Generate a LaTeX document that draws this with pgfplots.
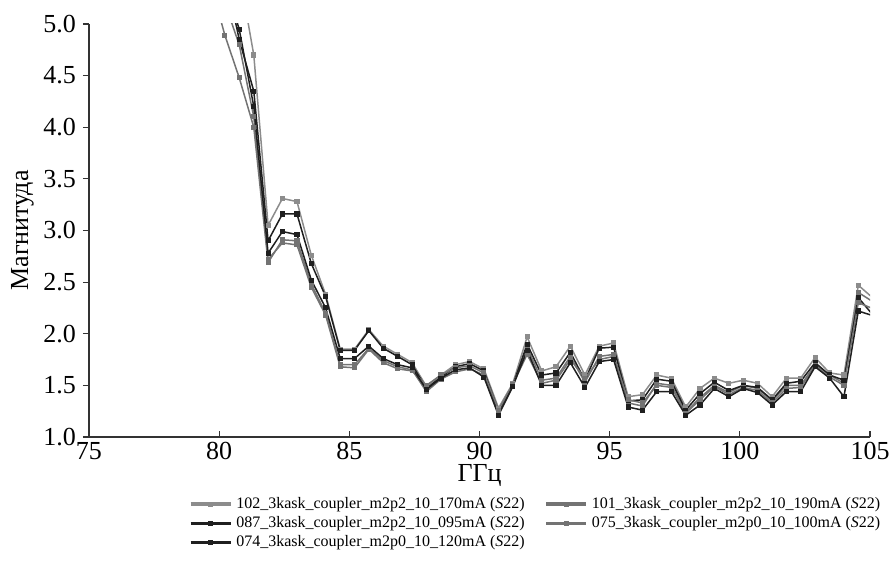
\documentclass[border=0pt]{standalone}
\usepackage{fontspec}
\setmainfont{Liberation Serif}
\usepackage{pgfplots}
\usepackage{pgfplotstable}
\pgfplotsset{compat=1.18}

% magnitude S22 for five bias settings
\pgfplotstableread{
x      s1    s2    s3    s4    s5
79.67  7.00  6.20  6.10  5.40  5.80
80.22  6.30  5.50  5.40  4.89  5.20
80.77  5.50  4.85  4.95  4.48  4.80
81.33  4.70  4.35  4.20  4.00  4.10
81.88  3.05  2.90  2.78  2.69  2.72
82.43  3.31  3.16  2.99  2.91  2.88
82.99  3.28  3.16  2.96  2.90  2.86
83.54  2.76  2.68  2.52  2.48  2.45
84.09  2.38  2.36  2.25  2.20  2.18
84.65  1.85  1.84  1.76  1.70  1.68
85.20  1.85  1.84  1.76  1.70  1.67
85.75  2.04  2.03  1.88  1.86  1.85
86.30  1.88  1.86  1.76  1.74  1.72
86.86  1.80  1.78  1.70  1.68  1.66
87.41  1.72  1.70  1.67  1.65  1.64
87.96  1.49  1.47  1.46  1.44  1.50
88.52  1.60  1.58  1.57  1.56  1.60
89.07  1.70  1.68  1.65  1.63  1.67
89.62  1.73  1.71  1.67  1.66  1.69
90.17  1.66  1.64  1.58  1.60  1.62
90.73  1.28  1.25  1.21  1.23  1.26
91.28  1.52  1.50  1.49  1.50  1.51
91.83  1.97  1.90  1.84  1.87  1.80
92.39  1.64  1.60  1.50  1.55  1.52
92.94  1.68  1.62  1.50  1.57  1.55
93.49  1.88  1.82  1.72  1.78  1.75
94.05  1.60  1.55  1.48  1.53  1.57
94.60  1.88  1.86  1.73  1.78  1.75
95.15  1.91  1.87  1.75  1.80  1.78
95.71  1.39  1.35  1.29  1.33  1.36
96.26  1.41  1.36  1.26  1.30  1.33
96.81  1.60  1.56  1.44  1.52  1.50
97.37  1.57  1.54  1.44  1.50  1.48
97.92  1.29  1.26  1.21  1.24  1.23
98.47  1.47  1.42  1.31  1.38  1.36
99.02  1.57  1.53  1.47  1.50  1.49
99.58  1.52  1.45  1.39  1.43  1.41
100.13 1.55  1.50  1.47  1.50  1.48
100.68 1.52  1.48  1.43  1.47  1.45
101.24 1.39  1.36  1.31  1.35  1.33
101.79 1.57  1.52  1.44  1.50  1.47
102.34 1.57  1.54  1.44  1.50  1.48
102.89 1.77  1.72  1.68  1.70  1.69
103.45 1.62  1.60  1.57  1.60  1.58
104.00 1.60  1.55  1.39  1.52  1.50
104.55 2.47  2.35  2.22  2.40  2.30
105.05 2.36  2.20  2.18  2.32  2.25
}\sdata

\definecolor{lgray}{gray}{0.55}
\definecolor{mgray}{gray}{0.45}
\definecolor{dk}{gray}{0.12}

\begin{document}
\begin{tikzpicture}
\begin{axis}[
    scale only axis,
    width=390.5pt, height=206.5pt,
    xmin=75, xmax=105, ymin=1, ymax=5,
    axis x line*=bottom, axis y line*=left,
    axis line style={line width=0.6pt, black!80},
    xtick align=inside, ytick align=outside, tick pos=left,
    major tick length=3pt,
    tick style={line width=0.6pt, black!80},
    xtick={75,80,...,105},
    ytick={1,1.5,...,5},
    yticklabel style={/pgf/number format/.cd, fixed, fixed zerofill, precision=1},
    /pgf/number format/assume math mode=true,
    ticklabel style={font=\fontsize{13}{15}\selectfont},
    xticklabel style={inner ysep=1pt, yshift=-1.3pt},
    label style={font=\fontsize{13}{15}\selectfont},
    xlabel={ГГц},
    ylabel={Магнитуда},
    xlabel style={inner ysep=1pt, yshift=-0.5pt},
    ylabel style={yshift=-2pt},
    legend columns=2,
    legend style={at={(0.12,-0.125)}, anchor=north west, draw=none,
        font=\fontsize{8}{10}\selectfont, cells={anchor=west},
        /tikz/every even column/.append style={column sep=8pt},
        row sep=-1.5pt},
    legend image code/.code={
        \draw[#1, line width=1.6pt] (0pt,0pt) -- (20pt,0pt);
        \draw[#1, only marks] plot coordinates {(10pt,0pt)};
    },
    every axis plot/.append style={line width=0.75pt, mark=square*, mark size=0.9pt},
]
\addplot[lgray] table[x=x, y=s1] {\sdata};
\addlegendentry{102\_3kask\_coupler\_m2p2\_10\_170mA (\textit{S}22)}
\addplot[mgray] table[x=x, y=s4] {\sdata};
\addlegendentry{101\_3kask\_coupler\_m2p2\_10\_190mA (\textit{S}22)}
\addplot[dk] table[x=x, y=s2] {\sdata};
\addlegendentry{087\_3kask\_coupler\_m2p2\_10\_095mA (\textit{S}22)}
\addplot[mgray] table[x=x, y=s5] {\sdata};
\addlegendentry{075\_3kask\_coupler\_m2p0\_10\_100mA (\textit{S}22)}
\addplot[dk] table[x=x, y=s3] {\sdata};
\addlegendentry{074\_3kask\_coupler\_m2p0\_10\_120mA (\textit{S}22)}
\coordinate (ll) at (rel axis cs:0,0);
\coordinate (ur) at (rel axis cs:1,1);
\end{axis}
\pgfresetboundingbox
\path ([shift={(-44.5pt,-72pt)}]ll) rectangle ([shift={(10pt,12pt)}]ur);
\end{tikzpicture}
\end{document}
